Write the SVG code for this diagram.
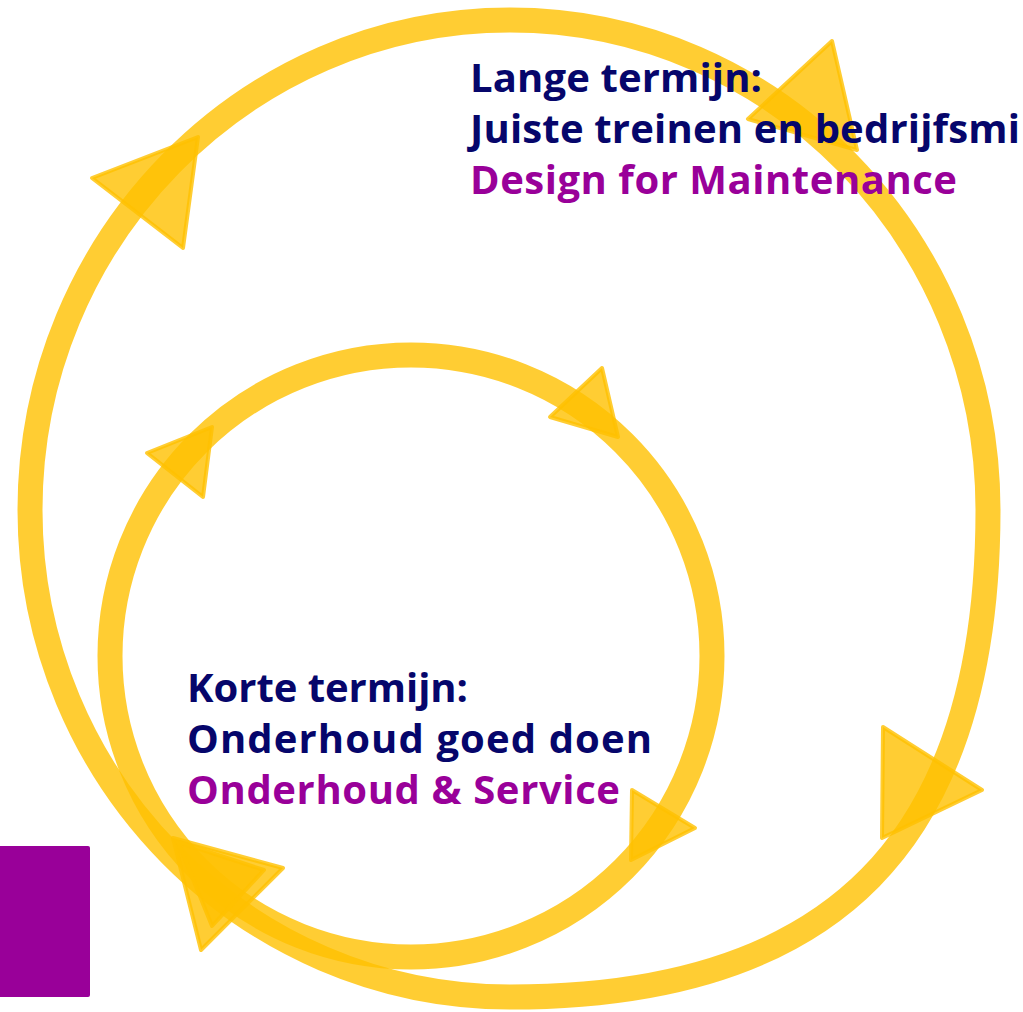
<svg xmlns="http://www.w3.org/2000/svg" width="1023" height="1012" viewBox="0 0 1023 1012">
<style>
.band{fill:none;stroke:#FFC000;stroke-opacity:0.8;stroke-width:25}
.head{fill:#FFC000;fill-opacity:0.8;stroke:#FFC000;stroke-opacity:0.8;stroke-width:4;stroke-linejoin:round}
.t{font-family:"Open Sans","Noto Sans","Liberation Sans",sans-serif;font-weight:700;font-size:40px}
.navy{fill:#06066B}
.purple{fill:#990099}
</style>
<rect x="-5" y="846" width="95" height="151" rx="2" fill="#990099"/>
<g id="connectors">
<path class="band" d="M510,20 C774,20 988,239 988,510 C988,841 834,997 510,997 C246,997 30,779 30,510 C30,239 246,20 510,20 Z"/>
<circle class="band" cx="411" cy="656" r="301"/>
<polygon class="head" points="832,41 748,119 857,150"/>
<polygon class="head" points="92,178 198,137 183,248"/>
<polygon class="head" points="883,727 982,790 882,838"/>
<polygon class="head" points="173,838 283,868 201,950"/>
<polygon class="head" points="602,368 550,417 618,437"/>
<polygon class="head" points="147,453 212,427 203,497"/>
<polygon class="head" points="632,790 695,828 631,860"/>
<polygon class="head" points="178,842 264,870 212,926"/>
</g>
<g id="node-lange">
<text class="t navy" x="470" y="92" textLength="292">Lange termijn:</text>
<text class="t navy" x="470" y="143" textLength="550">Juiste treinen en bedrijfsmi</text>
<text class="t purple" x="470" y="194" textLength="487">Design for Maintenance</text>
</g>
<g id="node-korte">
<text class="t navy" x="187" y="702" textLength="281">Korte termijn:</text>
<text class="t navy" x="187" y="753" textLength="465">Onderhoud goed doen</text>
<text class="t purple" x="187" y="804" textLength="433">Onderhoud &amp; Service</text>
</g>
</svg>
